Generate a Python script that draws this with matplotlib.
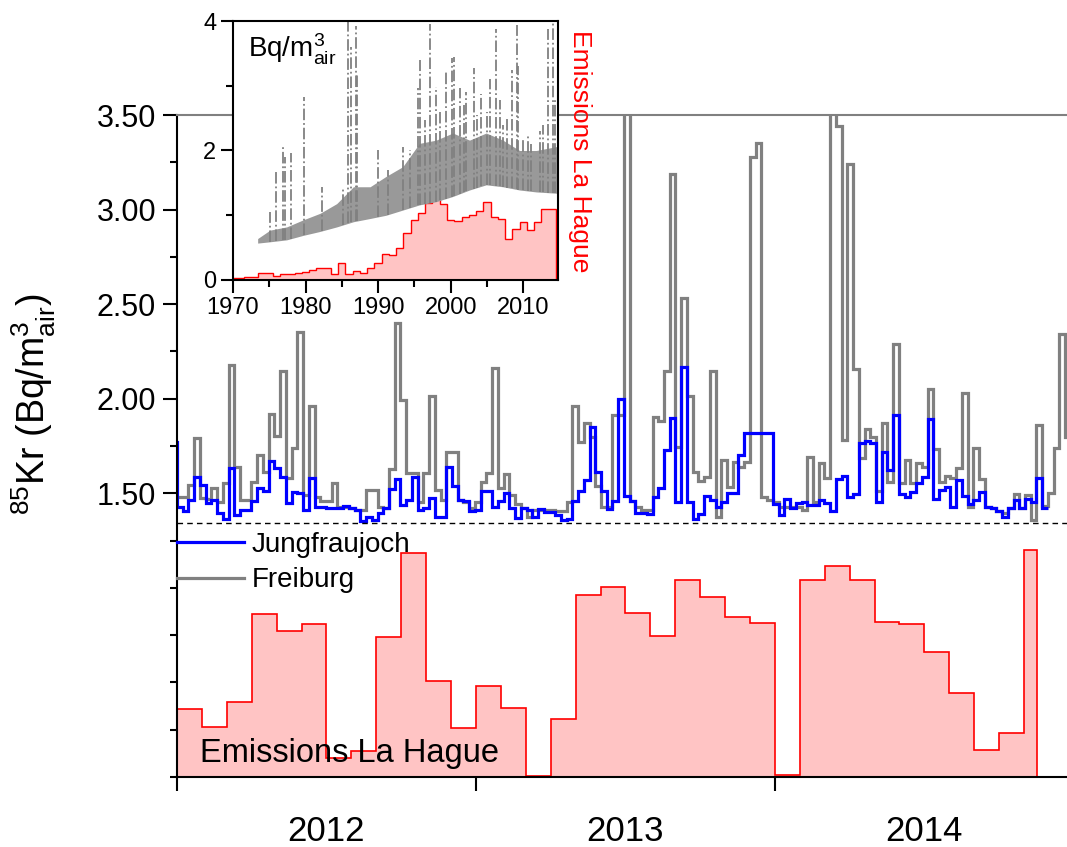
import numpy as np
import matplotlib
matplotlib.use('Agg')
import matplotlib.pyplot as plt
from matplotlib.lines import Line2D

plt.rcParams['font.family'] = 'Liberation Sans'
plt.rcParams['mathtext.fontset'] = 'custom'
plt.rcParams['mathtext.rm'] = 'Liberation Sans'
plt.rcParams['mathtext.it'] = 'Liberation Sans:italic'
plt.rcParams['mathtext.bf'] = 'Liberation Sans:bold'

# weekly 85Kr activity (Bq/m3 air), first Jungfraujoch value is the week before 2012
jungfraujoch = [
    1.77,
    1.425, 1.407, 1.465, 1.588, 1.544, 1.451, 1.465, 1.395, 1.365, 1.632, 1.386, 1.413, 1.413,
    1.46, 1.53, 1.513, 1.672, 1.632, 1.588, 1.448, 1.509, 1.50, 1.413, 1.579, 1.425, 1.425,
    1.42, 1.42, 1.42, 1.435, 1.42, 1.413, 1.355, 1.377, 1.36, 1.395, 1.42, 1.523, 1.576,
    1.439, 1.465, 1.588, 1.413, 1.42, 1.474, 1.372, 1.377, 1.641, 1.54, 1.465, 1.46, 1.407,
    1.413, 1.513, 1.513, 1.425, 1.46, 1.5, 1.42, 1.369, 1.42, 1.413, 1.372, 1.418, 1.40,
    1.40, 1.383, 1.36, 1.365, 1.46, 1.513, 1.57, 1.851, 1.611, 1.513, 1.418, 1.46, 2.0,
    1.488, 1.46, 1.395, 1.395, 1.39, 1.483, 1.53, 1.728, 1.898, 1.456, 2.167, 1.456, 1.365,
    1.39, 1.488, 1.465, 1.425, 1.456, 1.5, 1.5, 1.702, 1.821, 1.821, 1.821, 1.821, 1.821,
    1.442, 1.386, 1.47, 1.42, 1.448, 1.453, 1.439, 1.439, 1.465, 1.448, 1.404, 1.576, 1.593,
    1.478, 1.495, 1.764, 1.776, 1.764, 1.453, 1.72, 1.623, 1.916, 1.495, 1.478, 1.505, 1.553, 1.588,
    1.895, 1.47, 1.518, 1.535, 1.425, 1.57, 1.488, 1.442, 1.465, 1.509, 1.43, 1.42, 1.404,
    1.377, 1.42, 1.465, 1.42, 1.47, 1.456, 1.583, 1.42,
]
freiburg = [
    1.483, 1.483, 1.544, 1.793, 1.474, 1.47, 1.53, 1.456, 1.553, 2.179, 1.641, 1.465, 1.465,
    1.558, 1.702, 1.611, 1.921, 1.804, 2.144, 1.579, 1.737, 2.351, 1.492, 1.962, 1.483, 1.46,
    1.46, 1.553, 1.43, 1.43, 1.42, 1.413, 1.413, 1.518, 1.518, 1.43, 1.42, 1.628, 2.40,
    1.992, 1.606, 1.606, 1.456, 1.606, 2.015, 1.518, 1.465, 1.716, 1.716, 1.465, 1.453, 1.42,
    1.453, 1.562, 1.606, 2.162, 1.527, 1.60, 1.492, 1.442, 1.42, 1.377, 1.413, 1.41, 1.41,
    1.41, 1.405, 1.405, 1.456, 1.962, 1.772, 1.869, 1.80, 1.54, 1.43, 1.43, 1.916, 1.916,
    3.9, 1.46, 1.425, 1.413, 1.413, 1.904, 1.881, 2.144, 3.186, 1.746, 2.53, 2.015, 1.611,
    1.565, 1.588, 2.144, 1.372, 1.676, 1.535, 1.663, 1.64, 1.663, 3.28, 3.35, 1.483, 1.465,
    1.453, 1.43, 1.43, 1.43, 1.43, 1.413, 1.693, 1.453, 1.658, 1.583, 3.9, 3.44, 1.78,
    3.24, 2.155, 1.688, 1.839, 1.798, 1.513, 1.874, 1.558, 2.29, 1.553, 1.676, 1.553, 1.658,
    1.64, 2.05, 1.733, 1.562, 1.593, 1.579, 1.635, 2.032, 1.43, 1.737, 1.576, 1.43, 1.42,
    1.404, 1.395, 1.42, 1.495, 1.42, 1.492, 1.36, 1.86, 1.435, 1.50, 1.737, 2.342, 1.80,
]
# monthly emissions La Hague (arb. units), Dec 2011 .. mid Nov 2014
emissions = [
    18.3,
    10.3, 7.6, 11.4, 24.6, 22.1, 23.1, 2.9, 3.9, 21.1, 33.9, 14.5, 7.4,
    13.7, 10.4, 0.15, 8.8, 27.5, 28.7, 24.7, 21.3, 29.8, 27.2, 24.2, 23.2,
    0.3, 29.7, 31.8, 29.8, 23.4, 23.1, 18.9, 12.7, 4.1, 6.6, 34.3,
]
emis_end = 2014.875
background = 1.342

# inset: long-term record
band_years = [1973.4, 1975.1, 1977.4, 1979.7, 1982.0, 1984.3, 1986.6, 1988.9, 1991.1, 1993.4,
              1995.7, 1998.0, 2000.3, 2002.6, 2004.9, 2007.2, 2009.5, 2011.8, 2014.6]
band_low = [0.57, 0.59, 0.62, 0.69, 0.75, 0.82, 0.90, 0.95, 1.0, 1.08,
            1.16, 1.21, 1.29, 1.39, 1.47, 1.44, 1.39, 1.36, 1.34]
band_high = [0.64, 0.77, 0.82, 0.93, 1.03, 1.18, 1.44, 1.44, 1.60, 1.75,
             2.11, 2.16, 2.27, 2.16, 2.27, 2.16, 2.0, 2.0, 2.06]
spike_years = [1975.06, 1975.98, 1976.9, 1977.1, 1978.05, 1979.8, 1982.2, 1985.2, 1985.86, 1986.3,
               1986.9, 1987.1, 1990.0, 1991.4, 1993.4, 1994.4, 1995.5, 1995.75, 1996.4, 1997.1,
               1998.0, 1998.6, 1999.3, 2000.25, 2000.4, 2001.3, 2001.8, 2002.1, 2003.2, 2003.7,
               2004.25, 2005.0, 2005.4, 2006.2, 2006.8, 2007.2, 2007.8, 2008.4, 2009.1, 2009.3,
               2010.0, 2010.6, 2011.1, 2012.3, 2012.8, 2013.45, 2014.05, 2014.4]
spike_vals = [1.05, 1.70, 2.06, 1.90, 1.96, 2.83, 1.44, 1.44, 4.1, 3.6,
              3.92, 3.2, 2.0, 1.70, 2.06, 2.0, 2.96, 3.40, 2.47, 3.96,
              2.98, 2.6, 3.24, 3.43, 3.45, 2.96, 2.7, 2.9, 3.27, 2.55,
              2.88, 2.6, 3.1, 3.88, 2.78, 2.4, 2.5, 3.24, 3.94, 3.3,
              2.2, 2.25, 2.1, 2.3, 2.4, 3.87, 4.1, 2.78]
inset_years = list(range(1970, 2015))
inset_emis = [0.03, 0.03, 0.05, 0.05, 0.11, 0.11, 0.06, 0.10, 0.10, 0.11,
              0.13, 0.15, 0.18, 0.18, 0.09, 0.26, 0.10, 0.14, 0.11, 0.18,
              0.26, 0.40, 0.39, 0.49, 0.72, 0.93, 1.03, 1.19, 1.27, 1.18,
              0.93, 0.91, 0.98, 1.00, 1.06, 1.21, 0.97, 0.94, 0.63, 0.79,
              0.90, 0.77, 0.89, 1.09, 1.09]

week = 7 / 365.25
jf_edges = 2012 + week * np.arange(-1, len(jungfraujoch))
fr_edges = 2012 + week * np.arange(0, len(freiburg) + 1)
emis_edges = np.append(2012 + (np.arange(len(emissions)) - 1) / 12, emis_end)
inset_edges = np.append(np.array(inset_years) - 0.5, inset_years[-1] + 0.5)

grey = '#808080'
pink = '#ffc4c4'

fig = plt.figure(figsize=(10.67, 8.47), dpi=100)
ax = fig.add_axes([177 / 1067, 1 - 777 / 847, 890 / 1067, 662 / 847])
ax2 = ax.twinx()
ax.set_zorder(ax2.get_zorder() + 1)
ax.patch.set_visible(False)

# emissions in the lower part
ax2.stairs(emissions, emis_edges, baseline=0, fill=True, color=pink, lw=0)
ax2.stairs(emissions, emis_edges, baseline=0, color='red', lw=1.2)
ax2.set_ylim(0, 100)
ax2.axis('off')

ax.stairs(freiburg, fr_edges, baseline=None, color=grey, lw=2.3)
ax.stairs(jungfraujoch, jf_edges, baseline=None, color='#0000ff', lw=2.3)
ax.axhline(background, color='k', lw=1, ls=(0, (4, 3)))

ax.set_xlim(2012, 2014.977)
ax.set_ylim(0, 3.5)
ax.set_yticks([1.5, 2.0, 2.5, 3.0, 3.5], ['1.50', '2.00', '2.50', '3.00', '3.50'])
ax.set_yticks([0, 0.25, 0.5, 0.75, 1.0, 1.25, 1.75, 2.25, 2.75, 3.25], minor=True)
ax.set_xticks([2012, 2013, 2014], ['', '', ''])
ax.set_xticks([2012.5, 2013.5, 2014.5], ['2012', '2013', '2014'], minor=True)
ax.tick_params(axis='y', which='major', direction='out', length=10, width=1.5, labelsize=22, pad=5)
ax.tick_params(axis='y', which='minor', direction='out', length=5, width=1.5)
ax.tick_params(axis='x', which='major', direction='out', length=10, width=1.5)
ax.tick_params(axis='x', which='minor', length=0, labelsize=25, pad=27)
for s in ['left', 'bottom']:
    ax.spines[s].set_linewidth(1.5)
ax.spines['right'].set_visible(False)
ax.spines['top'].set_color(grey)
ax.spines['top'].set_linewidth(1.5)

ax.set_ylabel(r'$^{85}$Kr (Bq/m$^{3}_{\mathrm{air}}$)', fontsize=27)
ax.yaxis.set_label_coords(-0.134, 0.563)

handles = [Line2D([], [], color='#0000ff', lw=2.3), Line2D([], [], color=grey, lw=2.3)]
ax.legend(handles, ['Jungfraujoch', 'Freiburg'], loc='upper left', bbox_to_anchor=(0, 0.37),
          frameon=False, fontsize=20, handlelength=2.4, handletextpad=0.3,
          borderpad=0, borderaxespad=0, labelspacing=0.33)
ax.text(0.026, 0.023, 'Emissions La Hague', transform=ax.transAxes, fontsize=23.5, va='baseline')

# inset with the long-term record
axi = fig.add_axes([233 / 1067, 1 - 280 / 847, 325 / 1067, 259 / 847], zorder=5)
axi.stairs(inset_emis, inset_edges, baseline=0, fill=True, color=pink, lw=0)
axi.stairs(inset_emis, inset_edges, baseline=0, color='red', lw=1)
axi.fill_between(band_years, band_low, band_high, color='#999999', lw=0)
axi.vlines(spike_years, np.interp(spike_years, band_years, band_low), spike_vals,
           colors=grey, linestyles='-.', lw=1.3)
axi.set_xlim(1970, 2014.8)
axi.set_ylim(0, 4)
axi.set_xticks([1970, 1980, 1990, 2000, 2010])
axi.set_xticks([1975, 1985, 1995, 2005], minor=True)
axi.set_yticks([0, 2, 4])
axi.set_yticks([1, 3], minor=True)
axi.tick_params(which='major', direction='out', length=9, width=1.5, labelsize=17, pad=3)
axi.tick_params(which='minor', direction='out', length=5, width=1.5)
for s in axi.spines.values():
    s.set_linewidth(1.5)
axi.text(0.046, 0.96, r'Bq/m$^{3}_{\mathrm{air}}$', transform=axi.transAxes, fontsize=20, va='top')
axi.text(1.03, 0.965, 'Emissions La Hague', transform=axi.transAxes, fontsize=19,
         color='red', rotation=270, ha='left', va='top')

fig.savefig('out.png', dpi=100)
